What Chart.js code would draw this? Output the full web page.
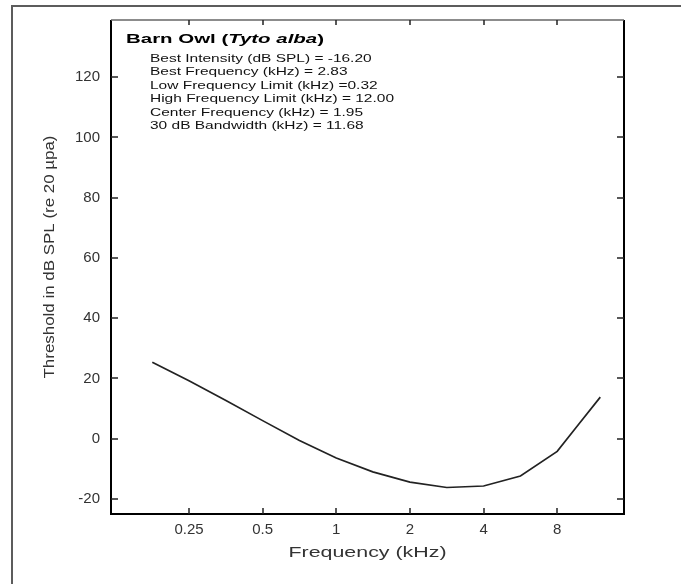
<!DOCTYPE html>
<html><head><meta charset="utf-8">
<script src="https://cdn.jsdelivr.net/npm/chart.js@4"></script>
<style>html,body{margin:0;padding:0;background:#fff;overflow:hidden}#wrap{width:681px;height:584px}</style>
</head><body><div id="wrap"><canvas id="c" width="681" height="584"></canvas></div>
<script>
// ---- data ----
const frequencies = [0.177, 0.25, 0.354, 0.5, 0.707, 1, 1.41, 2, 2.83, 4, 5.66, 8, 9.7, 12];
const thresholds = [25.4, 19.2, 12.7, 6.0, -0.6, -6.4, -11, -14.4, -16.2, -15.7, -12.4, -4.2, 4.4, 13.8];
const xTickValues = [0.25, 0.5, 1, 2, 4, 8];
const yTickValues = [-20, 0, 20, 40, 60, 80, 100, 120];
const titleParts = [["Barn Owl (", false], ["Tyto alba", true], [")", false]];
const statLines = [
  "Best Intensity (dB SPL) = -16.20",
  "Best Frequency (kHz) = 2.83",
  "Low Frequency Limit (kHz) =0.32",
  "High Frequency Limit (kHz) = 12.00",
  "Center Frequency (kHz) = 1.95",
  "30 dB Bandwidth (kHz) = 11.68"
];
const xTitle = "Frequency (kHz)";
const yTitle = "Threshold in dB SPL (re 20 \u00b5pa)";

const FONT = "'Liberation Sans', Arial, sans-serif";

function drawStretched(ctx, text, x, y, font, targetW, align) {
  ctx.font = font;
  const w = ctx.measureText(text).width;
  const s = targetW / w;
  ctx.save();
  ctx.translate(x, y);
  ctx.scale(s, 1);
  ctx.textAlign = align || 'left';
  ctx.fillText(text, 0, 0);
  ctx.restore();
}

const decor = {
  id: 'decor',
  afterDraw(chart) {
    const ctx = chart.ctx, a = chart.chartArea, xs = chart.scales.x, ys = chart.scales.y;
    ctx.save();
    // outer page border
    ctx.strokeStyle = '#5c5c5c'; ctx.lineWidth = 2;
    ctx.beginPath(); ctx.moveTo(12, 590); ctx.lineTo(12, 6); ctx.lineTo(690, 6); ctx.stroke();
    // plot frame
    ctx.strokeStyle = '#000'; ctx.lineWidth = 2;
    ctx.beginPath(); ctx.moveTo(a.right, a.top); ctx.lineTo(a.right, a.bottom); ctx.lineTo(a.left, a.bottom); ctx.lineTo(a.left, a.top); ctx.stroke();
    ctx.strokeStyle = '#666'; ctx.lineWidth = 1.5;
    ctx.beginPath(); ctx.moveTo(a.left, a.top); ctx.lineTo(a.right, a.top); ctx.stroke();
    // inward ticks
    ctx.strokeStyle = '#222'; ctx.lineWidth = 1.5;
    ctx.beginPath();
    xTickValues.forEach(v => {
      const px = Math.round(xs.getPixelForValue(v));
      ctx.moveTo(px, a.bottom); ctx.lineTo(px, a.bottom - 6);
      ctx.moveTo(px, a.top); ctx.lineTo(px, a.top + 5);
    });
    yTickValues.forEach(v => {
      const py = Math.round(ys.getPixelForValue(v));
      ctx.moveTo(a.left, py); ctx.lineTo(a.left + 7, py);
      ctx.moveTo(a.right, py); ctx.lineTo(a.right - 7, py);
    });
    ctx.stroke();
    // annotation
    ctx.fillStyle = '#000';
    ctx.textBaseline = 'alphabetic';
    const tf = (it) => (it ? 'italic ' : '') + 'bold 13.5px ' + FONT;
    let total = 0;
    titleParts.forEach(p => { ctx.font = tf(p[1]); total += ctx.measureText(p[0]).width; });
    const ts = 198 / total;
    ctx.save();
    ctx.translate(126, 43); ctx.scale(ts, 1);
    let cx = 0;
    titleParts.forEach(p => { ctx.font = tf(p[1]); ctx.fillText(p[0], cx, 0); cx += ctx.measureText(p[0]).width; });
    ctx.restore();
    // stats
    ctx.fillStyle = '#111';
    const sf = '11px ' + FONT;
    ctx.font = sf;
    const ref = ctx.measureText(statLines[3]).width;
    const ss = 244 / ref;
    statLines.forEach((t, i) => {
      ctx.save();
      ctx.translate(150, 62 + i * 13.4); ctx.scale(ss, 1);
      ctx.font = sf; ctx.fillText(t, 0, 0);
      ctx.restore();
    });
    // axis titles
    ctx.fillStyle = '#333';
    drawStretched(ctx, xTitle, (a.left + a.right) / 2, 557, '15.5px ' + FONT, 158, 'center');
    ctx.save();
    ctx.translate(54, 257); ctx.rotate(-Math.PI / 2);
    drawStretched(ctx, yTitle, 0, 0, '15.5px ' + FONT, 243, 'center');
    ctx.restore();
    ctx.restore();
  }
};

new Chart(document.getElementById('c'), {
  type: 'line',
  data: {
    datasets: [{
      data: frequencies.map((f, i) => ({ x: f, y: thresholds[i] })),
      borderColor: '#222',
      borderWidth: 1.7,
      pointRadius: 0,
      tension: 0,
      fill: false
    }]
  },
  options: {
    responsive: false,
    animation: false,
    layout: { padding: { left: 0, right: 57, top: 19, bottom: 0 } },
    plugins: { legend: { display: false }, tooltip: { enabled: false } },
    scales: {
      x: {
        type: 'logarithmic', min: 0.12, max: 15,
        afterBuildTicks: s => { s.ticks = xTickValues.map(v => ({ value: v })); },
        afterFit: s => { s.height = 70; },
        grid: { display: false, drawTicks: false },
        border: { display: false },
        ticks: { color: '#333', font: { family: FONT, size: 15 }, padding: 7, maxRotation: 0, autoSkip: false,
          callback: v => String(v) }
      },
      y: {
        type: 'linear', min: -25, max: 139,
        afterBuildTicks: s => { s.ticks = yTickValues.map(v => ({ value: v })); },
        afterFit: s => { s.width = 111; },
        grid: { display: false, drawTicks: false },
        border: { display: false },
        ticks: { color: '#333', font: { family: FONT, size: 15 }, padding: 11, callback: v => String(v) }
      }
    }
  },
  plugins: [decor]
});
</script>
</body></html>
